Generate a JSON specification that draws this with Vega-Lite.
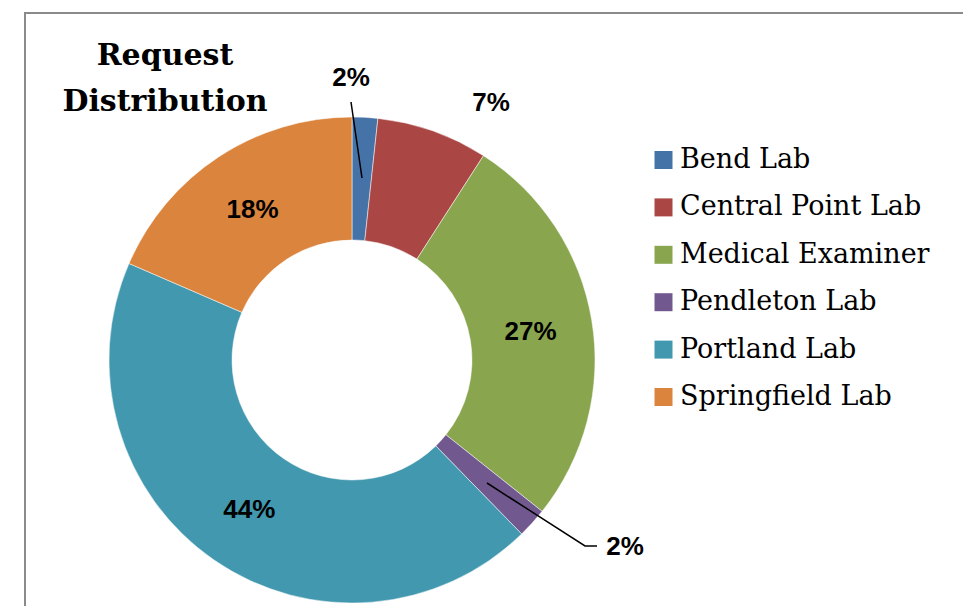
{
  "$schema": "https://vega.github.io/schema/vega-lite/v6.json",
  "width": 940,
  "height": 595,
  "autosize": "none",
  "padding": {"left": 25, "top": 13, "right": 0, "bottom": 0},
  "background": "white",
  "config": {"view": {"stroke": "#8a8a8a", "strokeWidth": 2}},
  "title": {
    "text": ["Request", "Distribution"],
    "anchor": "start",
    "align": "center",
    "dx": 140,
    "offset": -104,
    "baseline": "top",
    "font": "DejaVu Serif",
    "fontSize": 30,
    "fontWeight": "bold",
    "color": "black",
    "lineHeight": 46
  },
  "datasets": {
    "slices": [
      {"lab": "Bend Lab", "share": 1.7, "inlabel": ""},
      {"lab": "Central Point Lab", "share": 7.4, "inlabel": ""},
      {"lab": "Medical Examiner", "share": 26.6, "inlabel": "27%"},
      {"lab": "Pendleton Lab", "share": 2.0, "inlabel": ""},
      {"lab": "Portland Lab", "share": 43.8, "inlabel": "44%"},
      {"lab": "Springfield Lab", "share": 18.5, "inlabel": "18%"}
    ],
    "outside": [
      {"lab": "Bend Lab", "label": "2%", "px": 326, "py": 65},
      {"lab": "Central Point Lab", "label": "7%", "px": 466, "py": 90},
      {"lab": "Pendleton Lab", "label": "2%", "px": 600, "py": 534}
    ],
    "leaders": [
      {"grp": "Bend Lab", "seq": 1, "px": 337, "py": 165},
      {"grp": "Bend Lab", "seq": 2, "px": 326, "py": 89},
      {"grp": "Pendleton Lab", "seq": 1, "px": 462, "py": 470},
      {"grp": "Pendleton Lab", "seq": 2, "px": 560, "py": 533},
      {"grp": "Pendleton Lab", "seq": 3, "px": 572, "py": 533}
    ]
  },
  "layer": [
    {
      "data": {"name": "slices"},
      "mark": {"type": "arc", "outerRadius": 243, "innerRadius": 120, "stroke": "white", "strokeWidth": 0.5},
      "encoding": {
        "theta": {"field": "share", "type": "quantitative", "stack": true},
        "color": {
          "field": "lab",
          "type": "nominal",
          "scale": {
            "domain": ["Bend Lab", "Central Point Lab", "Medical Examiner", "Pendleton Lab", "Portland Lab", "Springfield Lab"],
            "range": ["#4572A7", "#AA4643", "#89A54E", "#71588F", "#4198AF", "#DB843D"]
          },
          "legend": {
            "orient": "none",
            "legendX": 625,
            "legendY": 133.5,
            "title": null,
            "padding": 0,
            "symbolType": "square",
            "symbolSize": 324,
            "symbolStrokeWidth": 0,
            "labelFont": "DejaVu Serif",
            "labelFontSize": 27,
            "labelColor": "black",
            "labelOffset": 3,
            "rowPadding": 19.4,
            "labelLimit": 400
          }
        },
        "x": {"datum": 327, "type": "quantitative", "scale": {"domain": [0, 940], "nice": false, "zero": false}, "axis": null},
        "y": {"datum": 347, "type": "quantitative", "scale": {"domain": [0, 595], "nice": false, "zero": false, "reverse": true}, "axis": null}
      }
    },
    {
      "data": {"name": "slices"},
      "mark": {"type": "text", "radius": 181, "font": "Liberation Sans", "fontSize": 26, "fontWeight": "bold", "color": "black", "align": "center", "baseline": "middle"},
      "encoding": {
        "theta": {"field": "share", "type": "quantitative", "stack": true},
        "order": {"field": "lab"},
        "text": {"field": "inlabel"},
        "x": {"datum": 327, "type": "quantitative", "scale": {"domain": [0, 940], "nice": false, "zero": false}, "axis": null},
        "y": {"datum": 348, "type": "quantitative", "scale": {"domain": [0, 595], "nice": false, "zero": false, "reverse": true}, "axis": null}
      }
    },
    {
      "data": {"name": "leaders"},
      "mark": {"type": "line", "color": "black", "strokeWidth": 1.5},
      "encoding": {
        "x": {"field": "px", "type": "quantitative", "scale": {"domain": [0, 940], "nice": false, "zero": false}, "axis": null},
        "y": {"field": "py", "type": "quantitative", "scale": {"domain": [0, 595], "nice": false, "zero": false, "reverse": true}, "axis": null},
        "detail": {"field": "grp"},
        "order": {"field": "seq"}
      }
    },
    {
      "data": {"name": "outside"},
      "mark": {"type": "text", "font": "Liberation Sans", "fontSize": 26, "fontWeight": "bold", "color": "black", "align": "center", "baseline": "middle"},
      "encoding": {
        "x": {"field": "px", "type": "quantitative", "scale": {"domain": [0, 940], "nice": false, "zero": false}, "axis": null},
        "y": {"field": "py", "type": "quantitative", "scale": {"domain": [0, 595], "nice": false, "zero": false, "reverse": true}, "axis": null},
        "text": {"field": "label"}
      }
    }
  ]
}
